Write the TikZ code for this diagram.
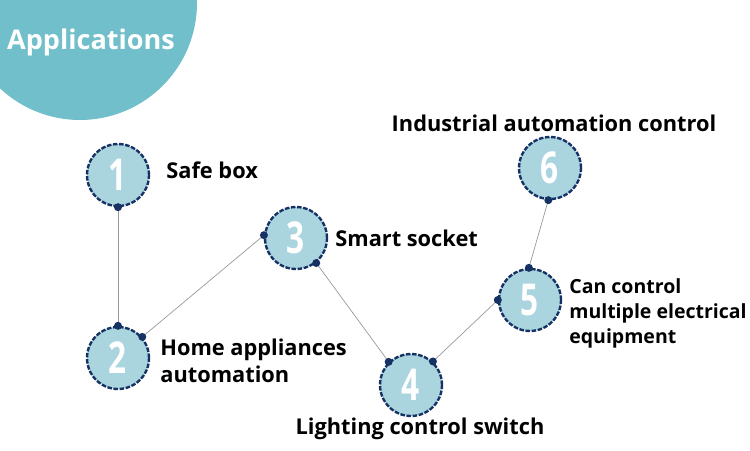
\documentclass[tikz,border=0pt]{standalone}
\usepackage{fontspec}
\setmainfont{Open Sans}
\newfontfamily\numfont[FakeStretch=0.72]{Open Sans}
\usepackage{tikz}
\usetikzlibrary{positioning}

\definecolor{appbg}{RGB}{114,191,204}
\definecolor{itemfill}{RGB}{170,213,223}
\definecolor{itemedge}{RGB}{22,50,100}

\begin{document}
\begin{tikzpicture}[x=0.02cm, y=-0.02cm,
		item/.style={circle, draw=itemedge, fill=itemfill, line width=1.35pt, dash pattern=on 2.6pt off 0.9pt, minimum size=1.24cm, inner sep=0pt, font=\numfont\bfseries\fontsize{25}{25}\selectfont, text=white},
		label/.style={anchor=west, align=left, inner sep=0pt, font=\bfseries\fontsize{12.4}{15.3}\selectfont},
		link/.style={gray!80, line width=0.4pt},
		knot/.style={fill=itemedge}]
		
		\useasboundingbox (0,0) rectangle (750,450);
		
		% Titel
		\begin{scope}
			\clip (0,0) rectangle (750,450);
			\fill[appbg] (80,3) circle (2.34cm);
		\end{scope}
		\node[text=white, font=\bfseries\fontsize{15.4}{17}\selectfont] (title) at (91,42) {Applications};
		
		% Kreise
		\node[item] (c1) at (118,175) {1};
		\node[item] (c2) at (118,358) {2};
		\node[item] (c3) at (296,238) {3};
		\node[item] (c4) at (411,385) {4};
		\node[item] (c5) at (530,300) {5};
		\node[item] (c6) at (550,168) {6};
		
		% Texte
		\node[label] (t1) at (166,170) {Safe box};
		\node[label] (t2) at (160,361) {Home appliances\\automation};
		\node[label] (t3) at (335,238) {Smart socket};
		\node[label, anchor=center] (t4) at (420,429) {Lighting control switch};
		\node[label, font=\bfseries\fontsize{11.1}{14.2}\selectfont] (t5) at (569,313) {Can control\\multiple electrical\\equipment};
		\node[label, anchor=center] (t6) at (554,123) {Industrial automation control};
		
		% Linien
		\draw[link] (c1.-90) -- (c2.90);
		\draw[link] (c2.41) -- (c3.175);
		\draw[link] (c3.-51) -- (c4.134);
		\draw[link] (c4.47) -- (c5.180);
		\draw[link] (c5.92) -- (c6.-93);
		
		% Punkte
		\foreach \p in {c1.-90, c2.90, c2.41, c3.175, c3.-51, c4.134, c4.47, c5.180, c5.92, c6.-93}
			\fill[knot] (\p) circle (0.08cm);
		
	\end{tikzpicture}
\end{document}
